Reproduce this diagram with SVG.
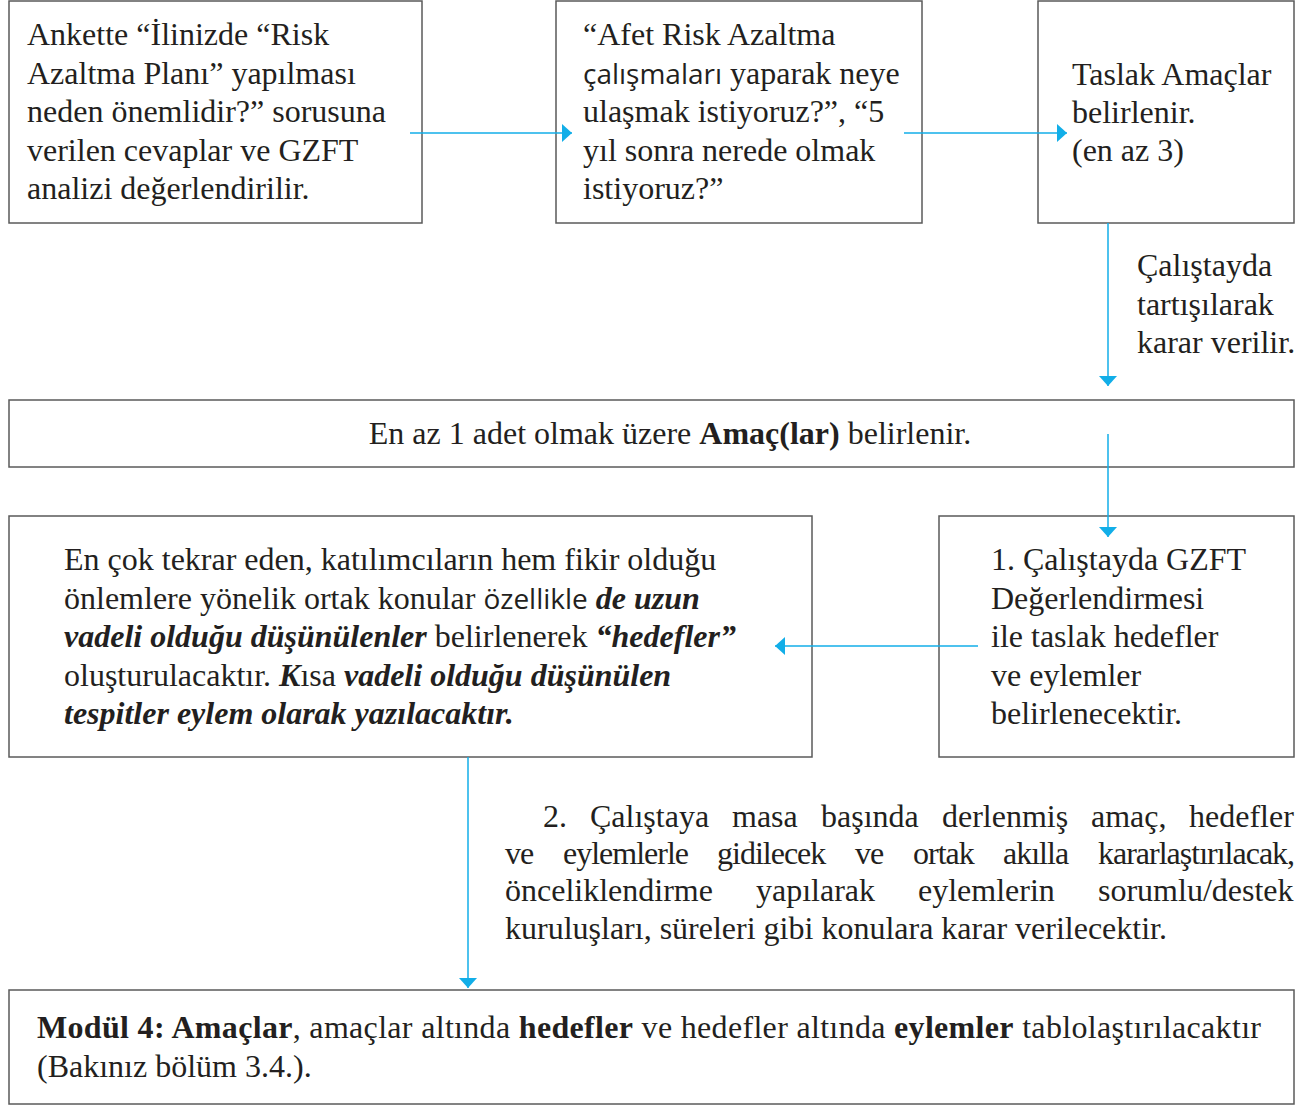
<svg xmlns="http://www.w3.org/2000/svg" width="1311" height="1108" viewBox="0 0 1311 1108">
<style>
.box{fill:#fff;stroke:#5a5a5a;stroke-width:1.5}
.t{font-family:"Liberation Serif","Times New Roman",serif;font-size:32px;fill:#231f20}
.s{font-family:"Open Sans","Noto Sans",sans-serif;font-size:28px}
.b{font-weight:bold}
.bi{font-weight:bold;font-style:italic}
.c{fill:none;stroke:#12aee8;stroke-width:1.5}
</style>
<defs>
<marker id="ah" markerUnits="userSpaceOnUse" markerWidth="11" markerHeight="19" refX="10" refY="9" orient="auto">
<path d="M0,0 L10,9 L0,18 Z" fill="#12aee8"/>
</marker>
</defs>
<rect width="1311" height="1108" fill="#fff"/>

<g id="n1">
<rect class="box" x="9" y="1" width="413" height="222"/>
<text class="t" x="27" y="45">Ankette “İlinizde “Risk</text>
<text class="t" x="27" y="84">Azaltma Planı” yapılması</text>
<text class="t" x="27" y="122">neden önemlidir?” sorusuna</text>
<text class="t" x="27" y="161">verilen cevaplar ve GZFT</text>
<text class="t" x="27" y="199">analizi değerlendirilir.</text>
</g>

<g id="n2">
<rect class="box" x="556" y="1" width="366" height="222"/>
<text class="t" x="583" y="45">“Afet Risk Azaltma</text>
<text class="t" x="583" y="84"><tspan class="s">çalışmaları</tspan> yaparak neye</text>
<text class="t" x="583" y="122">ulaşmak istiyoruz?”, “5</text>
<text class="t" x="583" y="161">yıl sonra nerede olmak</text>
<text class="t" x="583" y="199">istiyoruz?”</text>
</g>

<g id="n3">
<rect class="box" x="1038" y="1" width="256" height="222"/>
<text class="t" x="1072" y="85">Taslak Amaçlar</text>
<text class="t" x="1072" y="123">belirlenir.</text>
<text class="t" x="1072" y="161">(en az 3)</text>
</g>

<g id="lbl1">
<text class="t" x="1137" y="276">Çalıştayda</text>
<text class="t" x="1137" y="315">tartışılarak</text>
<text class="t" x="1137" y="353">karar verilir.</text>
</g>

<g id="n4">
<rect class="box" x="9" y="400" width="1285" height="67"/>
<text class="t" x="670" y="444" text-anchor="middle">En az 1 adet olmak üzere <tspan class="b">Amaç(lar)</tspan> belirlenir.</text>
</g>

<g id="n5">
<rect class="box" x="9" y="516" width="803" height="241"/>
<text class="t" x="64" y="570">En çok tekrar eden, katılımcıların hem fikir olduğu</text>
<text class="t" x="64" y="609">önlemlere yönelik ortak konular <tspan class="s">özellikle</tspan> <tspan class="bi">de uzun</tspan></text>
<text class="t" x="64" y="647"><tspan class="bi">vadeli olduğu düşünülenler</tspan> belirlenerek <tspan class="bi">“hedefler”</tspan></text>
<text class="t" x="64" y="686">oluşturulacaktır. <tspan class="bi">K</tspan>ısa <tspan class="bi">vadeli olduğu düşünülen</tspan></text>
<text class="t" x="64" y="724"><tspan class="bi">tespitler eylem olarak yazılacaktır.</tspan></text>
</g>

<g id="n6">
<rect class="box" x="939" y="516" width="355" height="241"/>
<text class="t" x="991" y="570">1. Çalıştayda GZFT</text>
<text class="t" x="991" y="609">Değerlendirmesi</text>
<text class="t" x="991" y="647">ile taslak hedefler</text>
<text class="t" x="991" y="686">ve eylemler</text>
<text class="t" x="991" y="724">belirlenecektir.</text>
</g>

<g id="lbl2">
<text class="t" y="827"><tspan x="543">2.</tspan><tspan x="590">Çalıştaya</tspan><tspan x="732">masa</tspan><tspan x="821">başında</tspan><tspan x="942">derlenmiş</tspan><tspan x="1091">amaç,</tspan><tspan x="1189">hedefler</tspan></text>
<text class="t" y="864" letter-spacing="-1"><tspan x="505">ve</tspan><tspan x="563">eylemlerle</tspan><tspan x="717">gidilecek</tspan><tspan x="855">ve</tspan><tspan x="913">ortak</tspan><tspan x="1003">akılla</tspan><tspan x="1098">kararlaştırılacak,</tspan></text>
<text class="t" y="901"><tspan x="505">önceliklendirme</tspan><tspan x="756">yapılarak</tspan><tspan x="918">eylemlerin</tspan><tspan x="1098">sorumlu/destek</tspan></text>
<text class="t" x="505" y="939">kuruluşları, süreleri gibi konulara karar verilecektir.</text>
</g>

<g id="n7">
<rect class="box" x="9" y="990" width="1285" height="114"/>
<text class="t" x="37" y="1038" textLength="1224" lengthAdjust="spacing"><tspan class="b">Modül 4: Amaçlar</tspan>, amaçlar altında <tspan class="b">hedefler</tspan> ve hedefler altında <tspan class="b">eylemler</tspan> tablolaştırılacaktır</text>
<text class="t" x="37" y="1077">(Bakınız bölüm 3.4.).</text>
</g>

<g id="connectors">
<path class="c" d="M410,133 H572" marker-end="url(#ah)"/>
<path class="c" d="M904,133 H1067" marker-end="url(#ah)"/>
<path class="c" d="M1108,223 V386" marker-end="url(#ah)"/>
<path class="c" d="M1108,434 V537" marker-end="url(#ah)"/>
<path class="c" d="M978,646 H775" marker-end="url(#ah)"/>
<path class="c" d="M468,757 V988" marker-end="url(#ah)"/>
</g>
</svg>
